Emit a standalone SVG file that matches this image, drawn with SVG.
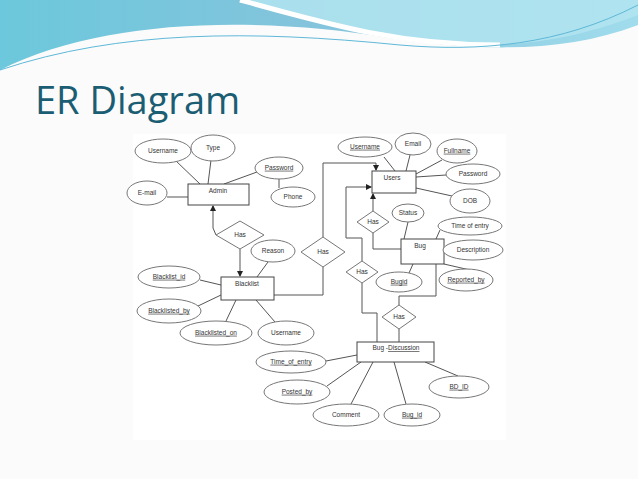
<svg xmlns="http://www.w3.org/2000/svg" width="638" height="479" viewBox="0 0 638 479">
<style>
.e{fill:#fff;stroke:#777;stroke-width:1}
.r{fill:#fff;stroke:#444;stroke-width:1}
.d{fill:#fff;stroke:#777;stroke-width:1}
.l{fill:none;stroke:#555;stroke-width:1}
text{font-family:"Liberation Sans",Arial,sans-serif;font-size:6.5px;fill:#333;text-anchor:middle;dominant-baseline:middle}
.u{text-decoration:underline}
.ru{text-decoration:underline;text-decoration-color:#d22}
</style>
<defs>
<linearGradient id="w1" x1="0" y1="0" x2="1" y2="0">
<stop offset="0" stop-color="#6cc8dc"/><stop offset="0.5" stop-color="#84c4dc"/><stop offset="1" stop-color="#a0dcec"/>
</linearGradient>
<marker id="a" markerWidth="6" markerHeight="6" refX="5" refY="3" orient="auto"><path d="M0,0L6,3L0,6z" fill="#222"/></marker>
</defs>
<rect width="638" height="479" fill="#fbfbfb"/>
<path d="M0,0H638V25C560,55 470,50 390,38C250,15 100,20 0,70Z" fill="url(#w1)"/>
<path d="M240,0C330,20 380,40 460,45C540,48 600,30 638,15V0Z" fill="#b2e4f0" opacity="0.85"/>
<path d="M240,0C330,25 400,45 500,45" fill="none" stroke="#fff" stroke-width="5"/>
<path d="M0,70C120,30 250,30 400,45C480,52 560,45 638,5" fill="none" stroke="#5fb8d8" stroke-width="1"/>
<text x="35" y="104" style="font-family:'Open Sans','Noto Sans',sans-serif;font-size:38px;fill:#1b5d72;text-anchor:start">ER Diagram</text>
<rect x="133" y="134" width="373" height="306" fill="#fff"/>
<g id="connectors">
<line class="l" x1="175" y1="160" x2="200" y2="184"/>
<line class="l" x1="211" y1="160" x2="208" y2="184"/>
<line class="l" x1="257" y1="172" x2="224" y2="184"/>
<line class="l" x1="279" y1="179" x2="279" y2="188"/>
<line class="l" x1="167" y1="197" x2="188" y2="197"/>
<polyline class="l" points="216,235 213,228 213,206" marker-end="url(#a)"/>
<line class="l" x1="240" y1="249" x2="240" y2="276" marker-end="url(#a)"/>
<line class="l" x1="268" y1="262" x2="257" y2="277"/>
<line class="l" x1="200" y1="280" x2="221" y2="285"/>
<line class="l" x1="198" y1="306" x2="221" y2="295"/>
<line class="l" x1="226" y1="321" x2="236" y2="300"/>
<line class="l" x1="275" y1="322" x2="256" y2="300"/>
<polyline class="l" points="274,295 323,295 323,267"/>
<polyline class="l" points="323,237 323,163 376,163 376,170" marker-end="url(#a)"/>
<line class="l" x1="373" y1="211" x2="373" y2="194" marker-end="url(#a)"/>
<polyline class="l" points="373,233 373,249 401,249"/>
<polyline class="l" points="362,261 362,238 346,238 346,187 371,187" marker-end="url(#a)"/>
<polyline class="l" points="362,283 362,313 377,313 377,342"/>
<line class="l" x1="384" y1="157" x2="395" y2="171"/>
<line class="l" x1="410" y1="155" x2="406" y2="171"/>
<line class="l" x1="442" y1="160" x2="416" y2="174"/>
<line class="l" x1="446" y1="175" x2="416" y2="177"/>
<line class="l" x1="452" y1="196" x2="416" y2="188"/>
<line class="l" x1="408" y1="222" x2="404" y2="239"/>
<line class="l" x1="440" y1="230" x2="436" y2="239"/>
<line class="l" x1="443" y1="251" x2="444" y2="254"/>
<line class="l" x1="444" y1="264" x2="470" y2="270"/>
<line class="l" x1="413" y1="264" x2="409" y2="273"/>
<polyline class="l" points="436,264 436,296 399,296 399,305"/>
<line class="l" x1="399" y1="329" x2="399" y2="342"/>
<line class="l" x1="326" y1="361" x2="357" y2="355"/>
<line class="l" x1="327" y1="386" x2="361" y2="362"/>
<line class="l" x1="351" y1="404" x2="373" y2="362"/>
<line class="l" x1="406" y1="404" x2="394" y2="362"/>
<line class="l" x1="458" y1="376" x2="425" y2="362"/>
</g>
<g id="admin"><rect class="r" x="188" y="184" width="61" height="21"/><text x="218" y="191">Admin</text></g>
<g id="admin-username"><ellipse class="e" cx="163" cy="151" rx="28" ry="12"/><text x="163" y="151">Username</text></g>
<g id="admin-type"><ellipse class="e" cx="213" cy="148" rx="22" ry="13"/><text x="213" y="148">Type</text></g>
<g id="admin-password"><ellipse class="e" cx="279" cy="168" rx="24" ry="11"/><text class="u" x="279" y="168">Password</text></g>
<g id="admin-phone"><ellipse class="e" cx="293" cy="197" rx="22" ry="10"/><text x="293" y="197">Phone</text></g>
<g id="admin-email"><ellipse class="e" cx="147" cy="193" rx="20" ry="12"/><text x="147" y="193">E-mail</text></g>
<g id="has-admin"><polygon class="d" points="240,221 264,235 240,249 216,235"/><text x="240" y="235">Has</text></g>
<g id="blacklist"><rect class="r" x="221" y="277" width="53" height="23"/><text x="247" y="284">Blacklist</text></g>
<g id="reason"><ellipse class="e" cx="273" cy="251" rx="22" ry="11"/><text x="273" y="251">Reason</text></g>
<g id="blacklist-id"><ellipse class="e" cx="169" cy="277" rx="31" ry="11"/><text class="u" x="169" y="277">Blacklist_id</text></g>
<g id="blacklisted-by"><ellipse class="e" cx="169" cy="311" rx="32" ry="12"/><text class="ru" x="169" y="311">Blacklisted_by</text></g>
<g id="blacklisted-on"><ellipse class="e" cx="216" cy="333" rx="36" ry="12"/><text class="ru" x="216" y="333">Blacklisted_on</text></g>
<g id="blacklist-username"><ellipse class="e" cx="286" cy="333" rx="28" ry="12"/><text x="286" y="333">Username</text></g>
<g id="has-blacklist"><polygon class="d" points="323,237 345,252 323,267 301,252"/><text x="323" y="252">Has</text></g>
<g id="users"><rect class="r" x="372" y="171" width="44" height="22"/><text x="392" y="178">Users</text></g>
<g id="users-username"><ellipse class="e" cx="365" cy="147" rx="27" ry="10"/><text class="u" x="365" y="147">Username</text></g>
<g id="users-email"><ellipse class="e" cx="413" cy="144" rx="18" ry="11"/><text x="413" y="144">Email</text></g>
<g id="fullname"><ellipse class="e" cx="457" cy="151" rx="20" ry="12"/><text class="ru" x="457" y="151">Fullname</text></g>
<g id="users-password"><ellipse class="e" cx="473" cy="174" rx="27" ry="10"/><text x="473" y="174">Password</text></g>
<g id="dob"><ellipse class="e" cx="470" cy="201" rx="20" ry="12"/><text x="470" y="201">DOB</text></g>
<g id="has-users"><polygon class="d" points="373,211 389,222 373,233 357,222"/><text x="373" y="222">Has</text></g>
<g id="bug"><rect class="r" x="401" y="239" width="43" height="25"/><text x="420" y="246">Bug</text></g>
<g id="status"><ellipse class="e" cx="408" cy="213" rx="16" ry="9"/><text x="408" y="213">Status</text></g>
<g id="time-of-entry"><ellipse class="e" cx="470" cy="226" rx="32" ry="9"/><text x="470" y="226">Time of entry</text></g>
<g id="description"><ellipse class="e" cx="473" cy="250" rx="30" ry="10"/><text x="473" y="250">Description</text></g>
<g id="reported-by"><ellipse class="e" cx="466" cy="280" rx="27" ry="11"/><text class="ru" x="466" y="280">Reported_by</text></g>
<g id="bugid"><ellipse class="e" cx="399" cy="282" rx="23" ry="10"/><text class="u" x="399" y="282">Bugid</text></g>
<g id="has-bug-users"><polygon class="d" points="362,261 378,272 362,283 346,272"/><text x="362" y="272">Has</text></g>
<g id="has-bug"><polygon class="d" points="399,305 416,317 399,329 382,317"/><text x="399" y="317">Has</text></g>
<g id="bug-discussion"><rect class="r" x="357" y="342" width="77" height="20"/><text x="396" y="348">Bug -<tspan class="ru">Discussion</tspan></text></g>
<g id="bd-time-of-entry"><ellipse class="e" cx="291" cy="362" rx="35" ry="11"/><text class="ru" x="291" y="362">Time_of_entry</text></g>
<g id="posted-by"><ellipse class="e" cx="297" cy="392" rx="33" ry="12"/><text class="ru" x="297" y="392">Posted_by</text></g>
<g id="comment"><ellipse class="e" cx="346" cy="415" rx="33" ry="11"/><text x="346" y="415">Comment</text></g>
<g id="bug-id"><ellipse class="e" cx="412" cy="415" rx="28" ry="11"/><text class="ru" x="412" y="415">Bug_id</text></g>
<g id="bd-id"><ellipse class="e" cx="459" cy="387" rx="30" ry="11"/><text class="u" x="459" y="387">BD_ID</text></g>
</svg>
